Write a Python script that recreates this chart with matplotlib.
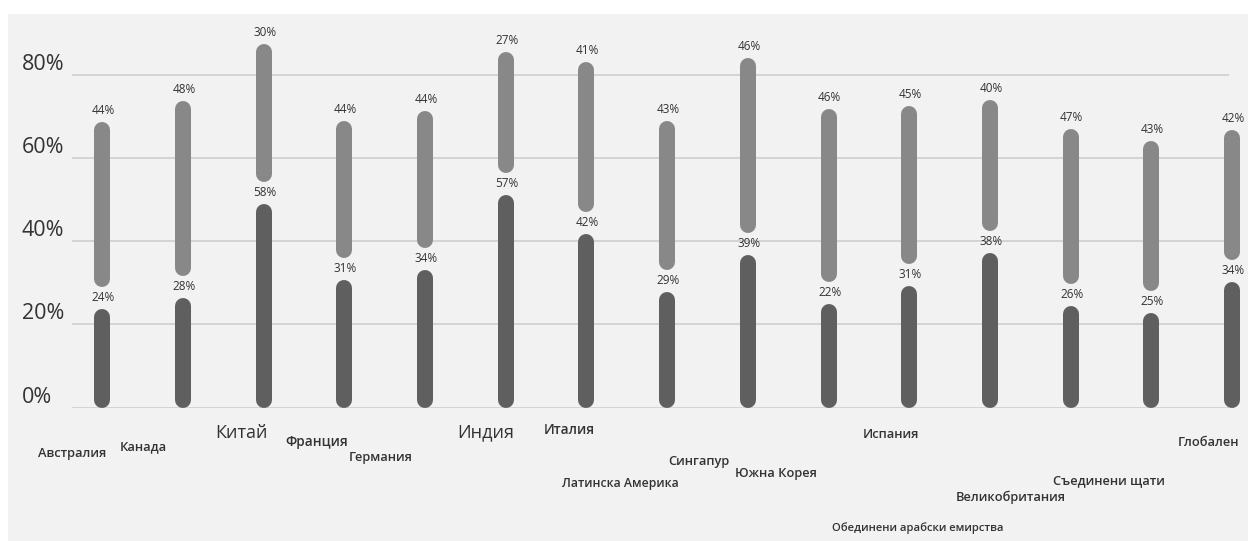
import matplotlib
matplotlib.use("Agg")
import matplotlib.pyplot as plt
from matplotlib.patches import Rectangle

plt.rcParams['font.family'] = ['Open Sans', 'DejaVu Sans']

# ---------------- data ----------------
categories = ["Австралия", "Канада", "Китай", "Франция", "Германия", "Индия", "Италия",
              "Латинска Америка", "Сингапур", "Южна Корея", "Испания",
              "Обединени арабски емирства", "Великобритания", "Съединени щати", "Глобален"]
# printed values
dark_labels = [24, 28, 58, 31, 34, 57, 42, 29, 39, 22, 31, 38, 26, 25, 34]
light_labels = [44, 48, 30, 44, 44, 27, 41, 43, 46, 46, 45, 40, 47, 43, 42]
# bar heights as drawn in the picture (%)
dark_height = [23.6, 26.3, 49.0, 30.7, 33.1, 51.2, 41.8, 27.7, 36.6, 25.0, 29.2, 37.1, 24.4, 22.8, 30.3]
total_height = [68.6, 73.8, 87.4, 69.0, 71.3, 85.4, 83.1, 69.0, 84.1, 71.8, 72.4, 73.9, 66.9, 64.0, 66.8]
y_ticks = [0, 20, 40, 60, 80]
y_tick_labels = ["0%", "20%", "40%", "60%", "80%"]

# ---------------- style / layout ----------------
DPI = 100
W, H = 1248, 541
DARK = "#5f5f5f"
LIGHT = "#888888"
BG = "#f2f2f2"
GRID = "#d4d4d4"
TXT = "#333333"
BAR_W_PX = 16
GAP_PX = 22
# category label placement: (dx px, y px from top of image, fontsize, weight)
label_style = [(-30, 454, 9.3, 600), (-40, 447, 9.3, 600), (-22, 433, 13, 400), (-28, 442, 9.8, 600),
               (-44, 457, 9.3, 600), (-20, 432, 13, 400), (-17, 430, 9.8, 600), (-47, 483, 8.8, 600),
               (-49, 461, 9.3, 600), (-53, 474, 9.3, 600), (-18, 434, 9.3, 600), (-72, 528, 8.1, 600),
               (-60, 497, 9.3, 600), (-42, 481, 9.3, 600), (-24, 443, 9.3, 600)]

fig = plt.figure(figsize=(W / DPI, H / DPI), dpi=DPI, facecolor="white")
bg = Rectangle((8 / W, 0), 1 - 8 / W, (H - 14) / H, transform=fig.transFigure,
               facecolor=BG, edgecolor="none", zorder=-10)
fig.add_artist(bg)

ax_left, ax_right = 72, 1229
ax_bottom_px = 407.6   # from top
ymax = 90
ppu = (407.6 - 74.8) / 80.0
ax_top_px = ax_bottom_px - ymax * ppu
ax = fig.add_axes([ax_left / W, (H - ax_bottom_px) / H, (ax_right - ax_left) / W,
                   (ax_bottom_px - ax_top_px) / H])
ax.set_zorder(1)
ax.set_facecolor("none")
first_x, step = 102.2, 80.71
ax.set_xlim(-(first_x - ax_left) / step, (ax_right - first_x) / step)
ax.set_ylim(0, ymax)
for s in ax.spines.values():
    s.set_visible(False)
ax.set_xticks([])
ax.set_yticks(y_ticks)
ax.tick_params(axis="y", length=0, labelleft=False)
ax.yaxis.grid(True, color=GRID, lw=1.4)
ax.set_axisbelow(True)

r = (BAR_W_PX / 2) / ppu
gap = GAP_PX / ppu
lw = BAR_W_PX * 72 / DPI
for i in range(len(categories)):
    d = dark_height[i]
    t = total_height[i]
    ax.plot([i, i], [r, d - r], color=DARK, lw=lw, solid_capstyle="round", clip_on=False, zorder=3)
    ax.plot([i, i], [d + gap + r, t - r], color=LIGHT, lw=lw, solid_capstyle="round", clip_on=False, zorder=3)
    ax.annotate(f"{dark_labels[i]}%", xy=(i, d), xytext=(1, 8), textcoords="offset pixels",
                ha="center", va="baseline", fontsize=8.5, color=TXT, annotation_clip=False)
    ax.annotate(f"{light_labels[i]}%", xy=(i, t), xytext=(1, 8), textcoords="offset pixels",
                ha="center", va="baseline", fontsize=8.5, color=TXT, annotation_clip=False)
    dx, ypx, fs, fw = label_style[i]
    ax.annotate(categories[i], xy=(i, 0), xytext=(dx, ax_bottom_px - ypx), textcoords="offset pixels",
                ha="center", va="center", fontsize=fs, fontweight=fw, color=TXT, annotation_clip=False)

for v, lab in zip(y_ticks, y_tick_labels):
    ax.annotate(lab, xy=(0, v), xycoords=("axes fraction", "data"), xytext=(-50, 5),
                textcoords="offset pixels", ha="left", va="baseline", fontsize=15.5, color=TXT,
                annotation_clip=False)

fig.savefig("out.png", dpi=DPI, facecolor="white")
